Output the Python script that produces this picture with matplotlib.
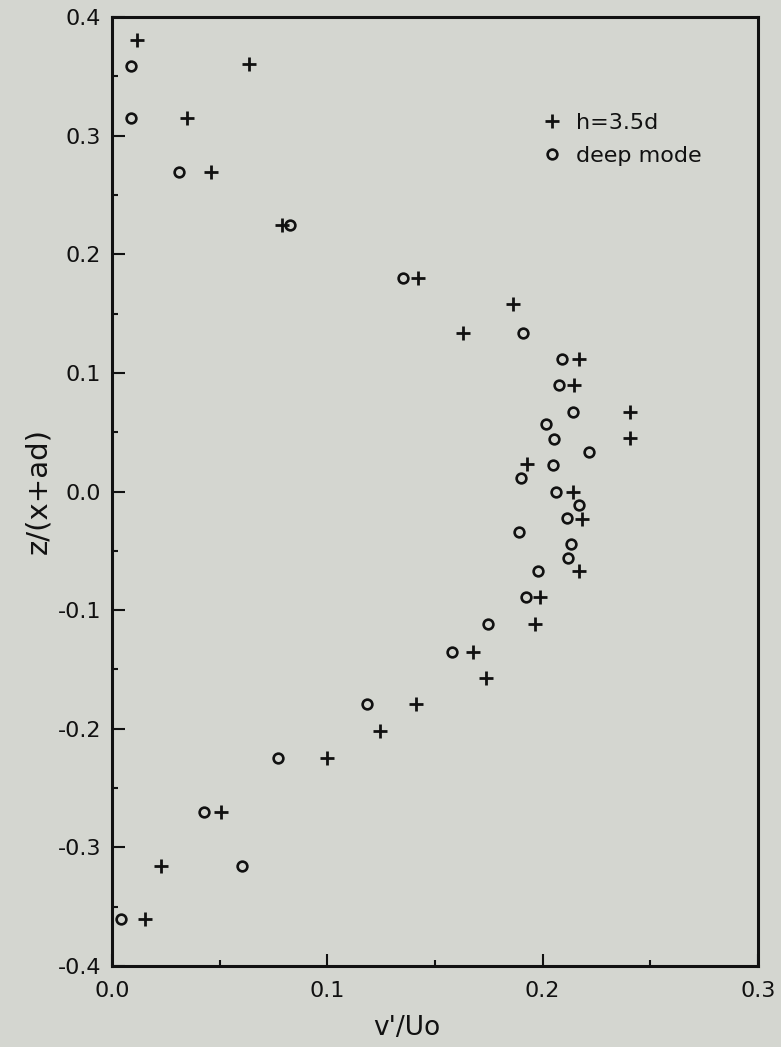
import matplotlib
matplotlib.use("Agg")
import matplotlib.pyplot as plt
from matplotlib.ticker import MultipleLocator, FormatStrFormatter

# h=3.5d series (plus markers)
h35_v = [0.0116, 0.0636, 0.035, 0.046, 0.079, 0.142, 0.186, 0.163, 0.217,
         0.2146, 0.2406, 0.2406, 0.1928, 0.214, 0.2183, 0.2169, 0.1988,
         0.1965, 0.1677, 0.1737, 0.1412, 0.1245, 0.0999, 0.0506, 0.0228,
         0.0153]
h35_z = [0.381, 0.360, 0.315, 0.269, 0.225, 0.180, 0.158, 0.134, 0.112,
         0.090, 0.067, 0.045, 0.023, 0.0, -0.023, -0.067, -0.089,
         -0.112, -0.135, -0.157, -0.179, -0.202, -0.225, -0.270, -0.316,
         -0.360]

# deep mode series (open circles)
deep_v = [0.0088, 0.009, 0.031, 0.0827, 0.135, 0.191, 0.209, 0.2076, 0.214,
          0.2016, 0.2053, 0.2215, 0.2048, 0.190, 0.2062, 0.217, 0.2113,
          0.189, 0.213, 0.2118, 0.198, 0.1923, 0.1746, 0.158, 0.1184,
          0.0771, 0.0427, 0.0604, 0.0043]
deep_z = [0.359, 0.315, 0.269, 0.225, 0.180, 0.134, 0.112, 0.090, 0.067,
          0.057, 0.044, 0.033, 0.022, 0.011, 0.0, -0.011, -0.022,
          -0.034, -0.044, -0.056, -0.067, -0.089, -0.112, -0.135, -0.179,
          -0.225, -0.270, -0.316, -0.360]

series_labels = ["h=3.5d", "deep mode"]

bg = "#d4d6d0"
ink = "#111111"

plt.rcParams["font.family"] = ["DejaVu Sans"]
plt.rcParams["axes.unicode_minus"] = False

fig = plt.figure(figsize=(7.81, 10.47), dpi=100, facecolor=bg)
ax = fig.add_axes([112 / 781, 81 / 1047, 646 / 781, 949 / 1047])
ax.set_facecolor(bg)

ax.plot(h35_v, h35_z, ls="none", marker="+", ms=10, mew=2.0, color=ink,
        label=series_labels[0])
ax.plot(deep_v, deep_z, ls="none", marker="o", ms=7, mew=1.9, mfc="none",
        mec=ink, label=series_labels[1])

ax.set_xlim(0.0, 0.3)
ax.set_ylim(-0.4, 0.4)

ax.xaxis.set_major_locator(MultipleLocator(0.1))
ax.xaxis.set_minor_locator(MultipleLocator(0.05))
ax.yaxis.set_major_locator(MultipleLocator(0.1))
ax.yaxis.set_minor_locator(MultipleLocator(0.05))
ax.xaxis.set_major_formatter(FormatStrFormatter("%.1f"))
ax.yaxis.set_major_formatter(FormatStrFormatter("%.1f"))

ax.tick_params(which="major", direction="in", length=9, width=1.5, color=ink,
               labelsize=16, labelcolor=ink)
ax.tick_params(which="minor", direction="in", length=4, width=1.5, color=ink)
ax.tick_params(axis="x", pad=11)
ax.tick_params(axis="y", pad=8)
ax.tick_params(which="both", top=False, right=False)

for s in ax.spines.values():
    s.set_linewidth(2.2)
    s.set_color(ink)

ax.set_xlabel("v'/Uo", fontsize=19, color=ink)
ax.set_ylabel("z/(x+ad)", fontsize=21, color=ink)
ax.xaxis.set_label_coords(0.457, -0.052)
ax.yaxis.set_label_coords(-0.092, 0.5)

leg = ax.legend(loc="upper left", bbox_to_anchor=(0.664, 0.899), frameon=False,
                fontsize=16, handlelength=1.0, handletextpad=0.6,
                labelspacing=0.6, borderaxespad=0, borderpad=0)
for t in leg.get_texts():
    t.set_color(ink)

fig.savefig("out.png", dpi=100, facecolor=bg)
